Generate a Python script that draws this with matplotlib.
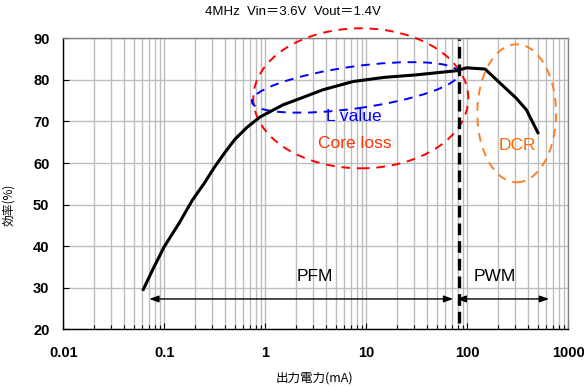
import matplotlib
matplotlib.use("Agg")
import matplotlib.pyplot as plt
from matplotlib.patches import Ellipse
from matplotlib.transforms import Affine2D

# ---- data ----
current_ma = [0.062, 0.078, 0.10, 0.14, 0.19, 0.25, 0.31, 0.40, 0.50, 0.66, 0.89,
              1.5, 2.2, 3.7, 7.4, 15, 31, 78, 98, 150, 195, 305, 385, 500]
efficiency = [29.6, 34.7, 39.9, 45.5, 51.1, 55.2, 58.8, 62.6, 65.7, 68.6, 71.1,
              74.0, 75.5, 77.6, 79.6, 80.6, 81.2, 82.2, 82.9, 82.6, 80.0, 75.6, 72.8, 67.3]
mode_boundary = 82
pfm_range = [0.071, 72.5]
pwm_range = [78.5, 645]
arrow_level = 27.3
xticks = [0.01, 0.1, 1, 10, 100, 1000]
xtick_labels = ["0.01", "0.1", "1", "10", "100", "1000"]
yticks = [20, 30, 40, 50, 60, 70, 80, 90]

title = "4MHz  Vin\uff1d3.6V  Vout\uff1d1.4V"
xlabel = "出力電力(mA)"
ylabel = "効率(%)"

W, H = 586, 388
fig = plt.figure(figsize=(W / 100, H / 100), dpi=100)
ax_l, ax_r, ax_t, ax_b = 63.3, 568.3, 38.3, 329.3
AW, AH = ax_r - ax_l, ax_b - ax_t
ax = fig.add_axes([ax_l / W, (H - ax_b) / H, AW / W, AH / H])

ax.set_xscale("log")
ax.set_xlim(0.01, 1000)
ax.set_ylim(20, 90)
ax.set_xticks(xticks)
ax.set_xticklabels(xtick_labels)
ax.set_yticks(yticks)

grid_c = "#bdbdbd"
ax.grid(True, which="major", axis="both", color=grid_c, lw=1.0)
ax.grid(True, which="minor", axis="x", color=grid_c, lw=1.0)
ax.set_axisbelow(True)
for s in ["top", "right"]:
    ax.spines[s].set_color("#808080")
    ax.spines[s].set_linewidth(1.0)
for s in ["left", "bottom"]:
    ax.spines[s].set_color("black")
    ax.spines[s].set_linewidth(1.0)

ax.tick_params(axis="both", which="both", direction="in", color="black", length=4, width=0.8)
ax.tick_params(axis="y", which="both", right=False, pad=10)
ax.tick_params(axis="x", which="both", top=False, pad=12)
ax.tick_params(axis="x", which="minor", length=3)
for lab in ax.get_xticklabels() + ax.get_yticklabels():
    lab.set_fontfamily("Liberation Sans")
    lab.set_fontsize(10.5)
    lab.set_fontweight("bold")

# curve
ax.plot(current_ma, efficiency, color="black", lw=2.2, solid_joinstyle="round", zorder=5)

# boundary dashed line
ax.plot([mode_boundary, mode_boundary], [21.5, 89.8], color="black", lw=2.4,
        dashes=(3.5, 1.8), zorder=6, clip_on=False)

# arrows
arrowprops = dict(arrowstyle="<|-|>,head_length=0.55,head_width=0.2", color="black",
                  lw=1.0, shrinkA=0, shrinkB=0)
ax.annotate("", xy=(pfm_range[1], arrow_level), xytext=(pfm_range[0], arrow_level),
            arrowprops=arrowprops)
ax.annotate("", xy=(pwm_range[1], arrow_level), xytext=(pwm_range[0], arrow_level),
            arrowprops=arrowprops)

lab_font = dict(family="Liberation Sans", size=12.5)
ax.text(3.06, 32.65, "PFM", ha="center", va="center", color="black", **lab_font)
ax.text(188, 32.8, "PWM", ha="center", va="center", color="black", **lab_font)
ax.text(7.55, 71.3, "L value", ha="center", va="center", color="#0000ff", **lab_font)
ax.text(7.7, 64.6, "Core loss", ha="center", va="center", color="#ff3300", **lab_font)
ax.text(310, 64.3, "DCR", ha="center", va="center", color="#ff6600", **lab_font)

# ellipses defined in axes-pixel space
px2ax = Affine2D().scale(1 / AW, 1 / AH) + ax.transAxes
ell_specs = [
    ((297.5, 231.0), 215, 140, 0, "#ff0000"),
    ((292.1, 241.9), 209, 42, 7.9, "#0000ff"),
    ((453.4, 216.0), 78.7, 138, 0, "#ff7f27"),
]
for (c, w, h, ang, col) in ell_specs:
    e = Ellipse(c, w, h, angle=ang, fill=False, edgecolor=col, lw=1.4,
                linestyle=(0, (4.5, 3.5)), transform=px2ax, clip_on=False, zorder=4)
    ax.add_patch(e)

cjk = ["Liberation Sans", "Noto Sans CJK JP"]
fig.text(293 / W, 1 - 11.7 / H, title, ha="center", va="center",
         family=cjk, size=9.5)
fig.text(314 / W, 1 - 378.5 / H, xlabel, ha="center", va="center",
         family=["Noto Sans CJK JP"], size=9)
fig.text(9 / W, 1 - 205 / H, ylabel, ha="center", va="center", rotation=90,
         family=["Noto Sans CJK JP"], size=8.5)

fig.savefig("out.png", dpi=100)
